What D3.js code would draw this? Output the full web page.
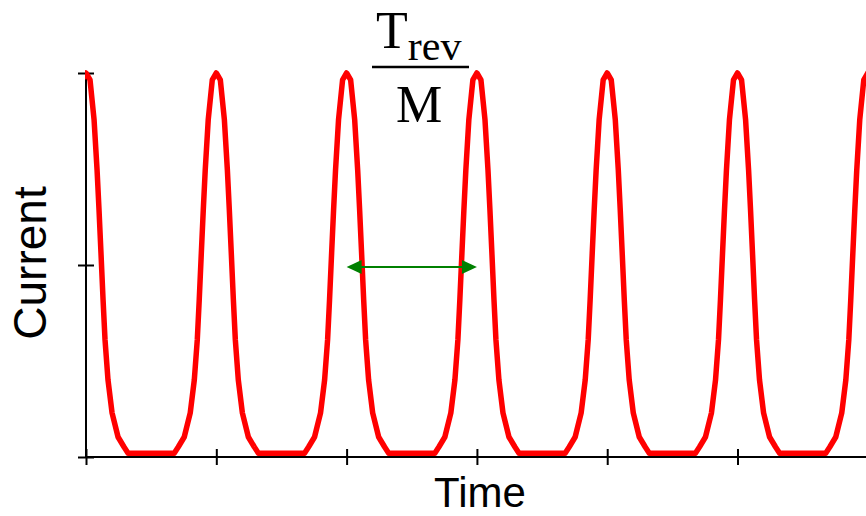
<!DOCTYPE html>
<html>
<head>
<meta charset="utf-8">
<script src="https://cdn.jsdelivr.net/npm/d3@7"></script>
<style>
  body { margin: 0; background: #fff; }
  svg { display: block; }
</style>
</head>
<body>
<div id="wrapper"></div>
<script>
// peak times (in units of Trev/M)
const peakTimes = [0, 1, 2, 3, 4, 5, 6];
// one pulse: offset from peak (period units) and current (0..1)
const pulseOffset  = [0, 0.031, 0.062, 0.085, 0.1, 0.115, 0.131, 0.146, 0.169, 0.2, 0.246, 0.292, 0.323, 0.5];
const pulseCurrent = [1, 0.982, 0.878, 0.747, 0.643, 0.531, 0.409, 0.305, 0.2, 0.115, 0.052, 0.026, 0.01, 0.01];
const xTicks = [0, 1, 2, 3, 4, 5];
const yTicks = [0, 0.5, 1];
const arrowSpan = [2, 3];
const arrowLevel = 0.495;

const dimension = {
  width: 866,
  height: 516,
  margin: { top: 73, right: 0, bottom: 59, left: 86 }
};
dimension.boundedWidth = dimension.width - dimension.margin.left - dimension.margin.right;
dimension.boundedHeight = dimension.height - dimension.margin.top - dimension.margin.bottom;

const xScale = d3.scaleLinear()
  .domain([0, 5.986])
  .range([dimension.margin.left, dimension.width - dimension.margin.right]);
const yScale = d3.scaleLinear()
  .domain([0, 1])
  .range([dimension.height - dimension.margin.bottom, dimension.margin.top]);

// build the pulse train from the single pulse profile
const points = [];
peakTimes.forEach(p => {
  for (let i = pulseOffset.length - 1; i > 0; i--) {
    points.push({ t: p - pulseOffset[i], c: pulseCurrent[i] });
  }
  for (let i = 0; i < pulseOffset.length; i++) {
    points.push({ t: p + pulseOffset[i], c: pulseCurrent[i] });
  }
});

const svg = d3.select("#wrapper")
  .append("svg")
  .attr("width", dimension.width)
  .attr("height", dimension.height);

svg.append("defs").append("clipPath")
  .attr("id", "plot-clip")
  .append("rect")
  .attr("x", dimension.margin.left - 1)
  .attr("y", 0)
  .attr("width", dimension.boundedWidth + 2)
  .attr("height", dimension.height);

// axes
const xAxis = d3.axisBottom(xScale)
  .tickValues(xTicks)
  .tickSize(8)
  .tickFormat("");
const gx = svg.append("g")
  .attr("transform", `translate(0,${yScale(0)})`)
  .call(xAxis);
gx.select(".domain").remove();
gx.append("line")
  .attr("x1", xScale(0)).attr("x2", dimension.width)
  .attr("stroke", "#000").attr("stroke-width", 2);
gx.selectAll(".tick line")
  .attr("y1", -8).attr("y2", 8)
  .attr("stroke", "#000").attr("stroke-width", 2);

const yAxis = d3.axisLeft(yScale)
  .tickValues(yTicks)
  .tickSize(8)
  .tickFormat("");
const gy = svg.append("g")
  .attr("transform", `translate(${xScale(0)},0)`)
  .call(yAxis);
gy.select(".domain").remove();
gy.append("line")
  .attr("y1", yScale(0)).attr("y2", yScale(1))
  .attr("stroke", "#000").attr("stroke-width", 2);
gy.selectAll(".tick line")
  .attr("x1", -8).attr("x2", 8)
  .attr("stroke", "#000").attr("stroke-width", 2);

// pulse train
const line = d3.line()
  .x(d => xScale(d.t))
  .y(d => yScale(d.c));

svg.append("path")
  .datum(points)
  .attr("clip-path", "url(#plot-clip)")
  .attr("fill", "none")
  .attr("stroke", "#ff0000")
  .attr("stroke-width", 5.5)
  .attr("stroke-linejoin", "round")
  .attr("d", line);

// double arrow
const green = "#008000";
const ax1 = xScale(arrowSpan[0]), ax2 = xScale(arrowSpan[1]), ay = yScale(arrowLevel);
svg.append("line")
  .attr("x1", ax1 + 10).attr("x2", ax2 - 10)
  .attr("y1", ay).attr("y2", ay)
  .attr("stroke", green).attr("stroke-width", 2);
svg.append("path")
  .attr("d", `M${ax1},${ay} L${ax1 + 15},${ay - 7} L${ax1 + 15},${ay + 7} Z`)
  .attr("fill", green);
svg.append("path")
  .attr("d", `M${ax2},${ay} L${ax2 - 15},${ay - 7} L${ax2 - 15},${ay + 7} Z`)
  .attr("fill", green);

// axis titles
svg.append("text")
  .attr("x", 480)
  .attr("y", 507)
  .attr("text-anchor", "middle")
  .style("font-family", "'Liberation Sans', Arial, sans-serif")
  .style("font-size", "42px")
  .text("Time");

svg.append("text")
  .attr("transform", "translate(46,263) rotate(-90)")
  .attr("text-anchor", "middle")
  .style("font-family", "'Liberation Sans', Arial, sans-serif")
  .style("font-size", "46px")
  .text("Current");

// Trev / M label
const frac = svg.append("g")
  .style("font-family", "'Liberation Serif', 'Times New Roman', serif")
  .attr("fill", "#000");
const num = frac.append("text")
  .attr("x", 376)
  .attr("y", 48);
num.append("tspan")
  .style("font-size", "52px")
  .text("T");
num.append("tspan")
  .attr("dy", 12)
  .style("font-size", "42px")
  .text("rev");
frac.append("line")
  .attr("x1", 372).attr("x2", 469)
  .attr("y1", 67).attr("y2", 67)
  .attr("stroke", "#000").attr("stroke-width", 2.5);
frac.append("text")
  .attr("x", 419)
  .attr("y", 122)
  .attr("text-anchor", "middle")
  .style("font-size", "52px")
  .text("M");
</script>
</body>
</html>
